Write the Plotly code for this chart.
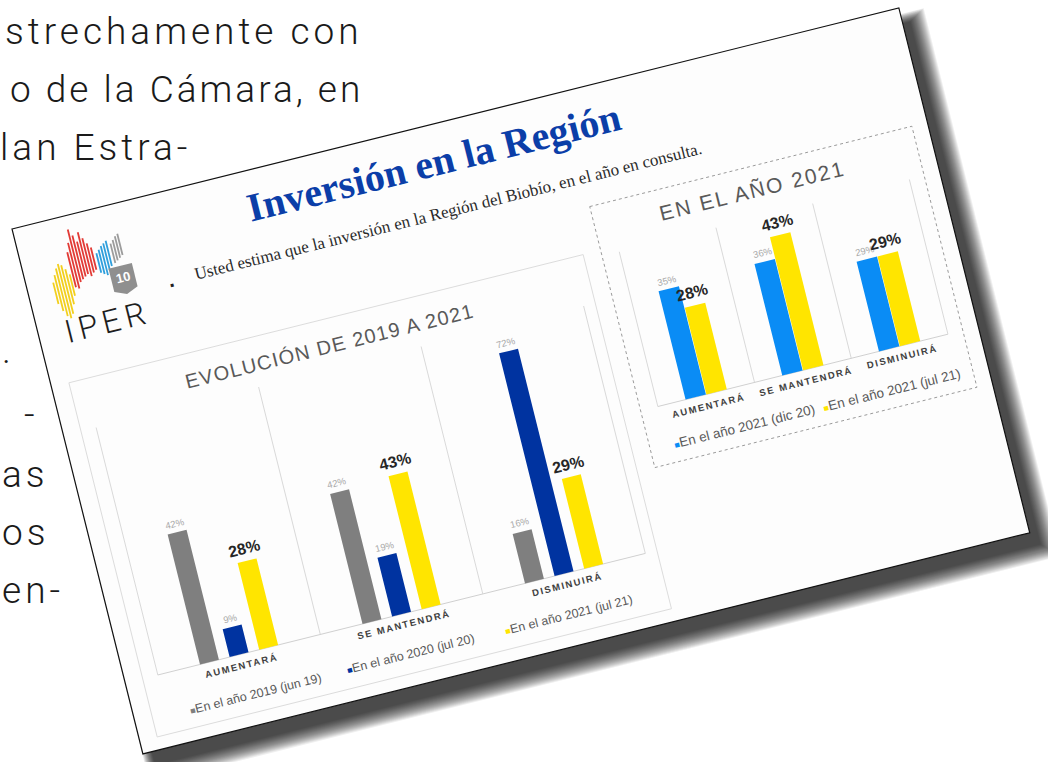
import math
import plotly.graph_objects as go

# --- Data
cats = ["AUMENTARÁ", "SE MANTENDRÁ", "DISMINUIRÁ"]

evo_names = ["En el año 2019 (jun 19)", "En el año 2020 (jul 20)", "En el año 2021 (jul 21)"]
evo_2019 = [42, 42, 16]
evo_2020 = [9, 19, 72]
evo_2021 = [28, 43, 29]

y21_names = ["En el año 2021 (dic 20)", "En el año 2021 (jul 21)"]
y21_dic20 = [35, 36, 29]
y21_jul21 = [28, 43, 29]

title = "Inversión en la Región"
subtitle = "Usted estima que la inversión en la Región del Biobío, en el año en consulta."
left_title = "EVOLUCIÓN DE 2019 A 2021"
right_title = "EN EL AÑO 2021"

# --- Page / slide geometry (pixels)
W, H = 1048, 762
ANG = 14.0
CS, SN = math.cos(math.radians(ANG)), math.sin(math.radians(ANG))
TL = (12, 229)          # top-left corner of the tilted slide
SW, SH = 914, 541       # slide size


def P(u, v):
    # slide-local (u right, v down) -> page pixels
    return TL[0] + u * CS + v * SN, TL[1] - u * SN + v * CS


def path(pts, close=True):
    xy = [P(u, v) for u, v in pts]
    d = "M " + " L ".join(f"{x:.2f},{y:.2f}" for x, y in xy)
    return d + (" Z" if close else "")


shapes = []
annotations = []
fig = go.Figure()

# --- shadow + slide
for k in range(16, -1, -1):
    shapes.append(dict(type="path", xref="x", yref="y", layer="below",
                       path=path([(9 - k * 0.6, 16 - k * 0.6), (SW + 8 + k, 16 - k * 0.6),
                                  (SW + 8 + k, SH + 14 + k), (9 - k * 0.6, SH + 14 + k)]),
                       fillcolor="rgba(0,0,0,0.065)", line=dict(width=0)))
shapes.append(dict(type="path", xref="x", yref="y", layer="below", path=path([(0, 0), (SW, 0), (SW, SH), (0, SH)]),
                   fillcolor="#fdfdfd", line=dict(color="#111111", width=1.2)))


def note(u, v, text, size, color, family="Liberation Sans", weight="normal", ls=None):
    x, y = P(u, v)
    if ls:
        text = f'<span style="letter-spacing:{ls}px">{text}</span>'
    annotations.append(dict(x=x, y=y, xref="x", yref="y", text=text, showarrow=False, textangle=-ANG,
                            xanchor="center", yanchor="middle",
                            font=dict(family=family, size=size, color=color, weight=weight)))


# --- logo (decorative)
logo_bars = [
    ("#f2cf1d", [(27, 62, 84), (30, 55, 92), (33, 49, 98), (36, 45, 101), (39, 47, 97), (42, 52, 88), (45, 58, 80)]),
    ("#e23a35", [(48, 36, 72), (51, 27, 74), (54, 14, 68), (57, 21, 66), (60, 28, 64), (63, 19, 62), (66, 26, 65),
                 (69, 32, 62), (72, 37, 60)]),
    ("#2f9fdc", [(76, 44, 64), (79, 41, 66), (82, 38, 68), (85, 36, 64), (88, 34, 60)]),
    ("#9c9c9c", [(92, 38, 58), (95, 35, 56), (98, 32, 54), (101, 30, 52)]),
]
for col, bars in logo_bars:
    for u, t, b in bars:
        x0, y0 = P(u, t)
        x1, y1 = P(u, b)
        shapes.append(dict(type="line", xref="x", yref="y", layer="below", x0=x0, y0=y0, x1=x1, y1=y1,
                           line=dict(color=col, width=1.8)))
shapes.append(dict(type="path", xref="x", yref="y", layer="below",
                   path=path([(84, 62), (108, 62), (108, 86), (96, 91), (84, 86)]),
                   fillcolor="#8f8f8f", line=dict(width=0)))
note(96, 74, "<b>10</b>", 13, "white")
note(70, 113, "IPER", 32, "#1e1e1e", family="Roboto", weight=300, ls=5)

# --- header
note(425, 37, f"<b>{title}</b>", 40, "#0b3ea8", family="Liberation Serif")
note(142, 93, "▪", 12, "#222222")
note(427, 88, subtitle, 17, "#2a2a2a", family="Liberation Serif")

# --- chart frames
shapes.append(dict(type="path", xref="x", yref="y", layer="below", path=path([(18, 163), (548, 163), (548, 528), (18, 528)]),
                   line=dict(color="#dcdcdc", width=1)))
shapes.append(dict(type="path", xref="x", yref="y", layer="below", path=path([(566, 118), (898, 118), (898, 387), (566, 387)]),
                   line=dict(color="#9a9a9a", width=1, dash="dot")))

note(280, 190, left_title, 20, "#595959", ls=1.2)
note(728, 142, right_title, 21, "#595959", ls=2)


def bar_chart(series, colors, names, u0, u1, vt, vb, ymax, bw, pitch, leg_u, leg_size):
    n = len(series)
    cw = (u1 - u0) / len(cats)
    sc = (vb - vt) / ymax
    # vertical category gridlines + baseline
    for k in range(len(cats) + 1):
        x0, y0 = P(u0 + k * cw, vt)
        x1, y1 = P(u0 + k * cw, vb)
        shapes.append(dict(type="line", xref="x", yref="y", layer="below", x0=x0, y0=y0, x1=x1, y1=y1,
                           line=dict(color="#d9d9d9", width=1)))
    x0, y0 = P(u0, vb)
    x1, y1 = P(u1, vb)
    shapes.append(dict(type="line", xref="x", yref="y", layer="below", x0=x0, y0=y0, x1=x1, y1=y1,
                       line=dict(color="#d0d0d0", width=1)))
    for i, vals in enumerate(series):
        xs, ys = [], []
        for j, val in enumerate(vals):
            cu = u0 + cw * (j + 0.5) + (i - (n - 1) / 2) * pitch
            top = vb - val * sc
            for u, v in [(cu - bw / 2, vb), (cu - bw / 2, top), (cu + bw / 2, top), (cu + bw / 2, vb), (cu - bw / 2, vb)]:
                x, y = P(u, v)
                xs.append(x)
                ys.append(y)
            xs.append(None)
            ys.append(None)
            if i == n - 1:
                note(cu, top - 13, f"<b>{val}%</b>", 16, "#262626")
            else:
                note(cu, top - 9, f"{val}%", 9.5, "#a8a8a8")
        fig.add_trace(go.Scatter(x=xs, y=ys, mode="lines", fill="toself", fillcolor=colors[i],
                                 line=dict(width=0), hoverinfo="skip", showlegend=False))
    for j, cat in enumerate(cats):
        note(u0 + cw * (j + 0.5), vb + 11, f"<b>{cat}</b>", 9.5, "#404040", ls=1.6)
    for i, name in enumerate(names):
        note(leg_u[i][0], leg_u[i][1], f'<span style="color:{colors[i]};font-size:9px">■</span>{name}',
             leg_size, "#595959")


bar_chart([evo_2019, evo_2020, evo_2021], ["#7f7f7f", "#0033a0", "#ffe500"], evo_names,
          33.6, 536, 213, 468, 80, 19.5, 30.5, [(124, 510), (284, 509), (447, 509)], 12.5)
bar_chart([y21_dic20, y21_jul21], ["#0a8cf5", "#ffe500"], y21_names,
          583.7, 882.7, 169, 328.5, 50, 21, 21.5, [(663, 369), (814, 369)], 13.5)

# --- magazine text around the slide (text, x, anchor, y centre, letter spacing)
mag = [
    ("strechamente con", 365, "right", 31, 4),
    ("o de la Cámara, en", 365, "right", 89, 3),
    ("lan Estra-", 193, "right", 147, 4),
    (".", 0, "left", 350, 4),
    ("-", 41, "right", 414, 4),
    ("as", 0, "left", 474, 4),
    ("os", 0, "left", 532, 4),
    ("en-", 0, "left", 590, 4),
]
for txt, xp, anc, yc, ls in mag:
    annotations.append(dict(x=xp, y=yc, xref="x", yref="y", showarrow=False, xanchor=anc, yanchor="middle",
                            text=f'<span style="letter-spacing:{ls}px">{txt}</span>',
                            font=dict(family="Roboto", size=37, color="#1a1a1a", weight=300)))

fig.update_layout(
    width=W, height=H, margin=dict(l=0, r=0, t=0, b=0),
    paper_bgcolor="white", plot_bgcolor="white",
    xaxis=dict(range=[0, W], visible=False, fixedrange=True),
    yaxis=dict(range=[H, 0], visible=False, fixedrange=True),
    shapes=shapes, annotations=annotations, showlegend=False,
)

fig.write_html("out.html", config={"displayModeBar": False},
               post_script="document.body.style.margin='0';document.body.style.overflow='hidden';")
